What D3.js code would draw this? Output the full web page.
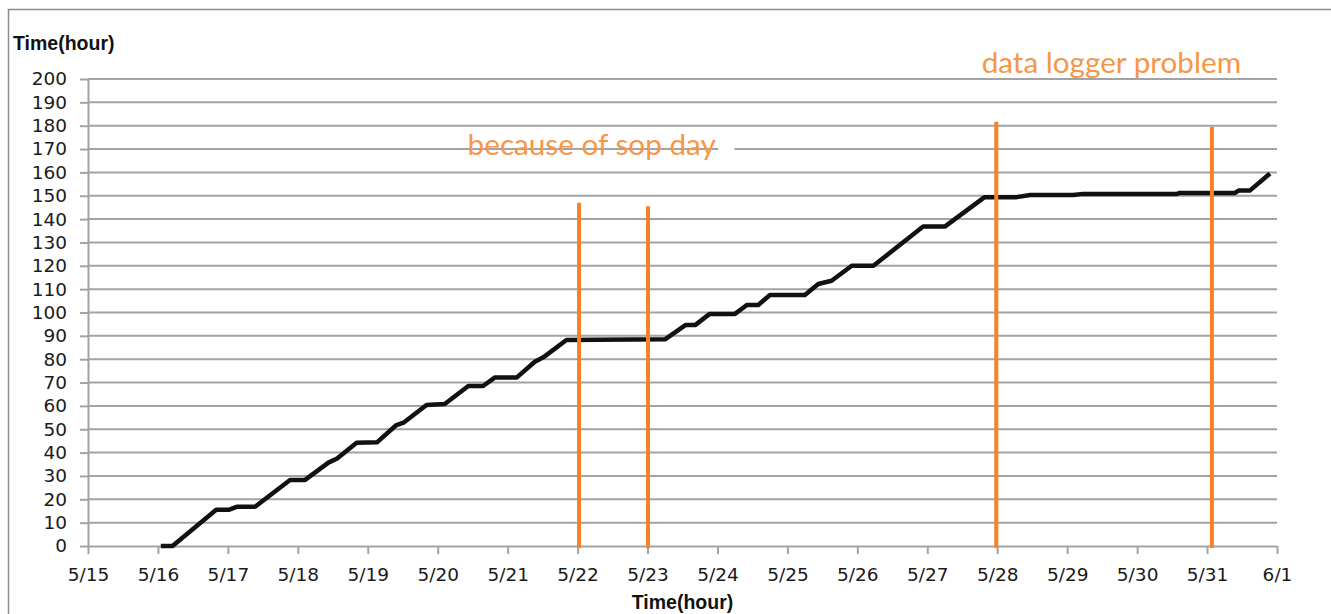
<!DOCTYPE html>
<html>
<head>
<meta charset="utf-8">
<script src="https://cdn.jsdelivr.net/npm/d3@7"></script>
<style>
  body { margin: 0; background: #fff; }
  .tick text { font-family: "DejaVu Sans", sans-serif; font-size: 18.5px; fill: #1a1a1a; }
  .ttl { font-family: "Liberation Sans", Arial, sans-serif; font-weight: bold; font-size: 19.5px; fill: #111; }
  .note { font-family: Lato, "Open Sans", sans-serif; font-size: 29.7px; fill: #F79646; }
</style>
</head>
<body>
<div id="c"></div>
<script>
var times = ["05/16 01:00", "05/16 05:00", "05/16 20:00", "05/17 00:15", "05/17 03:00", "05/17 09:20",
	"05/17 21:20", "05/18 02:30", "05/18 10:30", "05/18 13:30", "05/18 20:10", "05/19 03:10",
	"05/19 09:50", "05/19 12:15", "05/19 20:10", "05/20 02:25", "05/20 10:30", "05/20 15:35",
	"05/20 19:40", "05/21 03:10", "05/21 09:20", "05/21 12:15", "05/21 20:10", "05/23 06:00",
	"05/23 13:00", "05/23 16:20", "05/23 21:20", "05/24 06:00", "05/24 10:05", "05/24 14:00",
	"05/24 18:00", "05/25 06:00", "05/25 10:35", "05/25 15:10", "05/25 22:05", "05/26 05:30",
	"05/26 22:35", "05/27 06:00", "05/27 19:40", "05/28 06:40", "05/28 11:20", "05/29 02:00",
	"05/29 05:30", "05/30 13:40", "05/30 14:40", "05/31 09:35", "05/31 10:50", "05/31 14:40",
	"05/31 21:35"];
var hours = [0, 0, 15.5, 15.5, 16.8, 16.8,
	28.3, 28.3, 35.7, 37.5, 44.2, 44.4,
	51.8, 52.8, 60.4, 60.8, 68.5, 68.5,
	72.2, 72.2, 78.9, 80.8, 88.2, 88.5,
	94.6, 94.6, 99.4, 99.4, 103.2, 103.2,
	107.5, 107.5, 112.2, 113.6, 120, 120,
	136.8, 136.8, 149.4, 149.4, 150.3, 150.3,
	150.8, 150.8, 151.2, 151.2, 152.2, 152.2,
	159.5];

// orange marker lines
var eventTimes = ["05/22 00:30", "05/23 00:10", "05/27 23:40", "05/31 01:40"];
var eventTops = [147, 145.5, 181.7, 179.6];

// annotation texts (centre time, baseline value)
var noteTexts = ["because of sop day", "data logger problem"];
var noteTimes = ["05/22 04:50", "05/29 15:10"];
var noteVals = [167.5, 202.7];

var yTicks = d3.range(0, 201, 10);
var dayStart = "05/15 00:00", dayEnd = "06/01 00:00";
var axisTitle = "Time(hour)";

var parse = d3.timeParse("%m/%d %H:%M");
var data = times.map(function(t, i) { return { t: parse(t), v: hours[i] }; });

var width = 1331, height = 614;
var svg = d3.select("#c").append("svg")
	.attr("width", width)
	.attr("height", height);

// outer chart border (runs off right and bottom)
svg.append("rect")
	.attr("x", 8.5).attr("y", 9.5)
	.attr("width", width).attr("height", height)
	.attr("fill", "none")
	.attr("stroke", "#8c8c8c")
	.attr("stroke-width", 1.5);

var x = d3.scaleTime()
	.domain([parse(dayStart), parse(dayEnd)])
	.range([88, 1277]);

var y = d3.scaleLinear()
	.domain([0, 200])
	.range([546, 79]);

// gridlines
svg.append("g")
	.selectAll("line")
	.data(yTicks.slice(1))
	.enter()
	.append("line")
	.attr("x1", x.range()[0])
	.attr("x2", x.range()[1])
	.attr("y1", function(d) { return y(d); })
	.attr("y2", function(d) { return y(d); })
	.attr("stroke", "#a3a3a3")
	.attr("stroke-width", 2);

svg.append("g")
	.attr("transform", "translate(" + x.range()[0] + ",0)")
	.call(d3.axisLeft(y).tickValues(yTicks).tickSize(8).tickSizeOuter(0).tickPadding(13));

svg.append("g")
	.attr("transform", "translate(0," + y(0) + ")")
	.call(d3.axisBottom(x).ticks(d3.timeDay.every(1)).tickFormat(d3.timeFormat("%-m/%-d"))
		.tickSize(8).tickSizeOuter(0).tickPadding(14));

svg.selectAll(".domain, .tick line")
	.attr("stroke", "#a3a3a3")
	.attr("stroke-width", 2);

// small white gap in the 170 gridline, right after the first note
var gap = svg.append("rect").attr("fill", "#fff");

var line = d3.line()
	.x(function(d) { return x(d.t); })
	.y(function(d) { return y(d.v); });

svg.append("path")
	.datum(data)
	.attr("d", line)
	.attr("fill", "none")
	.attr("stroke", "#111")
	.attr("stroke-width", 4.5)
	.attr("stroke-linejoin", "round");

svg.append("g")
	.selectAll("line")
	.data(eventTimes)
	.enter()
	.append("line")
	.attr("x1", function(d) { return x(parse(d)); })
	.attr("x2", function(d) { return x(parse(d)); })
	.attr("y1", y(0) + 2)
	.attr("y2", function(d, i) { return y(eventTops[i]); })
	.attr("stroke", "#F8822A")
	.attr("stroke-width", 4);

var notes = svg.append("g")
	.selectAll("text")
	.data(noteTexts)
	.enter()
	.append("text")
	.attr("class", "note")
	.attr("text-anchor", "middle")
	.attr("x", function(d, i) { return x(parse(noteTimes[i])); })
	.attr("y", function(d, i) { return y(noteVals[i]); })
	.text(function(d) { return d; });

var bb = notes.nodes()[0].getBBox();
gap.attr("x", bb.x + bb.width + 2)
	.attr("y", y(170) - 3)
	.attr("width", 16)
	.attr("height", 6);

svg.append("text")
	.attr("class", "ttl")
	.attr("x", 13)
	.attr("y", 50)
	.text(axisTitle);

svg.append("text")
	.attr("class", "ttl")
	.attr("text-anchor", "middle")
	.attr("x", (x.range()[0] + x.range()[1]) / 2)
	.attr("y", 609)
	.text(axisTitle);
</script>
</body>
</html>
